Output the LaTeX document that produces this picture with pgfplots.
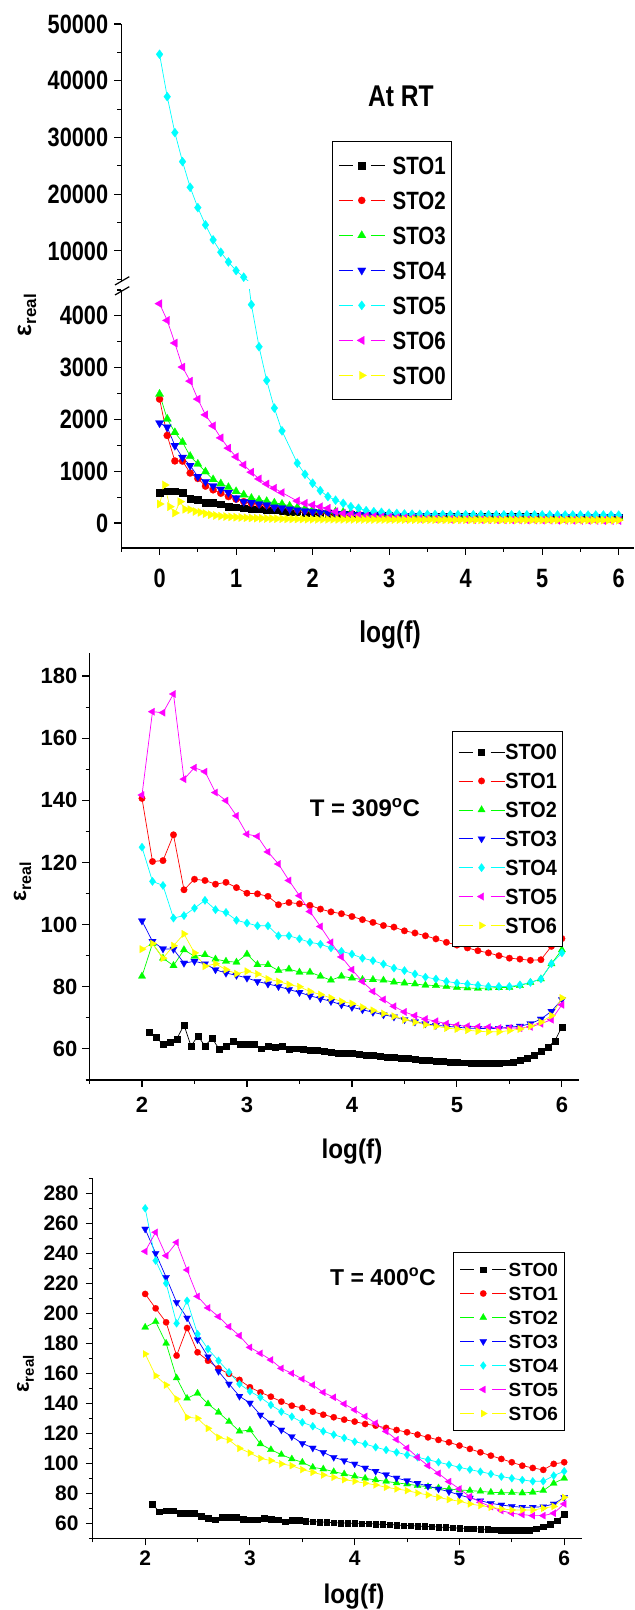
\documentclass[border=0pt]{standalone}
\usepackage{fontspec}
\setmainfont{Liberation Sans}
\newfontfamily\fA[FakeStretch=0.82]{Liberation Sans}
\newfontfamily\fB[FakeStretch=0.9]{Liberation Sans}
\newfontfamily\fC{Liberation Sans}
\usepackage{pgfplots}
\pgfplotsset{compat=1.18}
\usepackage{pgfplotstable}

\definecolor{oRed}{RGB}{255,0,0}
\definecolor{oGreen}{RGB}{0,255,0}
\definecolor{oBlue}{RGB}{0,0,255}
\definecolor{oCyan}{RGB}{0,255,255}
\definecolor{oMag}{RGB}{255,0,255}
\definecolor{oYel}{RGB}{255,255,0}

% ---------------- Panel 1 (At RT) ----------------
\pgfplotstableread{
x   bk   rd   gr   bl   cy    mg
0.0 586  2393 2490 1930 44660 4236
0.1 618  1690 2010 1850 37190 3913
0.2 618  1198 1750 1495 30850 3475
0.3 586  1195 1560 1265 25740 3011
0.4 470  965  1290 1110 21220 2740
0.5 451  860  1140 895  17630 2392
0.6 393  712  990  798  14580 2089
0.7 393  640  840  712  11940 1876
0.8 367  575  760  650  9770  1644
0.9 316  510  690  586  8060  1445
1.0 303  460  610  480  6530  1277
1.1 290  412  545  412  5370  1122
1.2 271  380  480  393  4217  981
1.3 264  360  445  367  3404  851
1.4 251  342  420  348  2752  754
1.5 245  330  390  305  2219  671
1.6 232  320  365  290  1779  586
1.7 222  290  330  270  nan   nan
1.8 212  260  300  250  1155  425
1.9 203  240  280  230  941   380
2.0 195  225  260  215  768   348
2.1 186  210  245  203  625   315
2.2 178  197  232  192  510   284
2.3 171  186  220  183  440   218
2.4 165  176  209  175  380   187
2.5 159  168  199  168  315   168
2.6 154  160  190  162  284   148
2.7 150  154  182  157  238   135
2.8 146  148  175  152  218   125
2.9 142  143  168  148  206   116
3.0 139  139  163  144  190   108
3.1 136  135  158  141  185   101
3.2 134  132  154  138  175   95
3.3 132  129  150  136  170   90
3.4 130  127  147  134  167   85
3.5 128  125  144  132  165   81
3.6 127  123  141  130  163   78
3.7 126  121  139  129  162   75
3.8 125  120  137  128  161   72
3.9 124  119  135  127  160   70
4.0 123  118  134  126  159   68
4.1 122  117  133  125  159   66
4.2 121  116  132  124  158   64
4.3 121  115  131  124  158   63
4.4 120  114  130  123  157   61
4.5 120  113  129  123  157   60
4.6 119  112  128  122  157   59
4.7 119  111  127  122  156   58
4.8 118  110  126  121  156   57
4.9 118  109  125  121  156   56
5.0 117  108  124  120  155   55
5.1 117  107  123  120  155   54
5.2 116  106  122  119  155   53
5.3 116  105  121  119  154   52
5.4 115  104  120  118  154   51
5.5 115  103  119  118  154   50
5.6 114  102  118  117  153   50
5.7 114  101  117  117  153   49
5.8 113  100  116  116  153   48
5.9 113  99   115  116  152   48
6.0 112  98   114  115  152   47
}\tA

\pgfplotstableread{
x     y
0.000 367
0.067 734
0.133 315
0.200 193
0.267 412
0.333 264
0.400 258
0.467 222
0.533 205
0.600 180
0.667 160
0.733 145
0.800 132
0.867 124
0.933 117
1.000 111
1.067 106
1.133 101
1.200 97
1.267 93
1.333 90
1.400 87
1.467 85
1.533 83
1.600 81
1.667 79
1.733 77
1.800 76
1.867 75
1.933 74
2.000 73
2.067 72
2.133 72
2.200 71
2.267 71
2.333 70
2.400 70
2.467 69
2.533 69
2.600 68
2.667 68
2.733 67
2.800 67
2.867 66
2.933 66
3.000 66
3.067 65
3.133 65
3.200 65
3.267 64
3.333 64
3.400 64
3.467 63
3.533 63
3.600 63
3.667 62
3.733 62
3.800 62
3.867 61
3.933 61
4.000 61
4.067 61
4.133 60
4.200 60
4.267 60
4.333 60
4.400 59
4.467 59
4.533 59
4.600 59
4.667 58
4.733 58
4.800 58
4.867 58
4.933 57
5.000 57
5.067 57
5.133 57
5.200 57
5.267 56
5.333 56
5.400 56
5.467 56
5.533 56
5.600 55
5.667 55
5.733 55
5.800 55
5.867 55
5.933 55
6.000 55
}\tAz

% ---------------- Panel 2 (309 C) ----------------
\pgfplotstableread{
x   r     g    b     c     m     y
2.0 140.6 83.4 101.2 124.9 141.7 92.1
2.1 120.3 93.9 94.6  113.9 168.5 93.9
2.2 120.6 89.2 92.2  112.6 168.2 89.2
2.3 128.9 86.8 92.1  102.1 174.2 93.2
2.4 111.2 91.9 87.6  102.9 146.8 97.0
2.5 114.6 89.8 88.2  105.3 150.5 90.9
2.6 114.2 90.3 87.4  107.8 149.2 86.6
2.7 113.0 88.9 85.5  104.8 142.5 87.4
2.8 113.6 88.2 84.4  103.9 139.9 85.5
2.9 111.9 87.9 83.7  101.4 135.0 84.2
3.0 110.1 90.5 82.8  100.5 129.1 85.0
3.1 109.9 87.1 81.7  99.6  128.4 84.1
3.2 109.1 87.1 80.9  99.6  123.4 82.5
3.3 106.4 85.2 80.1  96.4  119.5 81.7
3.4 107.1 85.7 79.1  96.4  114.2 80.7
3.5 106.7 84.7 78.2  95.4  109.3 80.0
3.6 106.2 84.7 77.1  94.3  104.2 78.5
3.7 105.0 83.4 76.2  93.7  99.4  77.5
3.8 104.1 82.1 75.3  92.5  94.3  76.4
3.9 103.5 83.4 74.2  91.4  89.6  75.3
4.0 102.6 82.8 73.4  90.5  85.5  74.6
4.1 101.6 82.3 72.6  89.2  81.7  73.4
4.2 100.7 82.3 71.8  88.4  78.5  72.4
4.3 99.7  82.1 71.0  87.3  75.9  71.4
4.4 99.2  81.5 70.3  86.0  73.7  70.5
4.5 98.0  81.2 69.4  85.2  71.9  69.4
4.6 97.3  80.9 68.7  84.1  70.7  68.6
4.7 96.4  80.5 68.1  83.1  69.6  67.8
4.8 95.4  80.4 67.6  82.5  68.9  67.3
4.9 94.3  80.1 67.3  81.7  68.1  66.7
5.0 93.4  79.8 67.0  81.2  67.6  66.4
5.1 92.5  79.6 66.7  80.9  67.3  66.0
5.2 91.6  79.5 66.6  80.5  67.1  65.7
5.3 90.9  79.6 66.5  80.1  67.0  65.5
5.4 90.0  79.7 66.6  80.1  66.7  65.5
5.5 89.2  79.8 67.0  80.1  66.7  65.9
5.6 88.9  80.4 67.3  80.6  66.7  66.4
5.7 88.5  81.4 68.1  81.4  67.1  67.3
5.8 88.7  82.5 69.6  82.5  68.1  68.6
5.9 93.0  87.4 72.1  87.4  69.4  70.7
6.0 95.5  91.9 75.9  90.9  74.2  76.4
}\tB

\pgfplotstableread{
x     y
2.067 65.4
2.133 63.9
2.200 61.4
2.267 62.2
2.333 63.3
2.400 67.7
2.467 60.9
2.533 64.2
2.600 60.9
2.667 63.5
2.733 60.0
2.800 60.9
2.867 62.5
2.933 61.4
3.000 61.4
3.067 61.4
3.133 60.1
3.200 61.0
3.267 60.6
3.333 60.9
3.400 59.8
3.467 60.1
3.533 60.0
3.600 59.5
3.667 59.6
3.733 59.3
3.800 59.0
3.867 58.8
3.933 58.6
4.000 58.5
4.067 58.3
4.133 58.1
4.200 57.9
4.267 57.7
4.333 57.5
4.400 57.3
4.467 57.1
4.533 56.9
4.600 56.7
4.667 56.5
4.733 56.3
4.800 56.1
4.867 56.0
4.933 55.9
5.000 55.8
5.067 55.6
5.133 55.5
5.200 55.4
5.267 55.4
5.333 55.4
5.400 55.5
5.467 55.6
5.533 55.8
5.600 56.3
5.667 57.0
5.733 58.0
5.800 59.2
5.867 60.6
5.933 62.6
6.000 67.1
}\tBz

% ---------------- Panel 3 (400 C) ----------------
\pgfplotstableread{
x   r     g     b     c     m     y
2.0 212.9 190.7 256.2 270.0 241.3 172.9
2.1 203.3 194.4 240.0 235.1 254.0 158.4
2.2 194.0 180.0 224.0 220.0 238.4 152.2
2.3 171.8 156.9 207.3 193.3 247.3 142.9
2.4 190.2 143.3 196.9 208.4 228.9 130.7
2.5 174.0 146.7 182.4 186.2 211.3 130.0
2.6 168.4 139.6 171.1 176.2 203.6 123.3
2.7 163.3 134.0 161.3 168.4 197.8 117.3
2.8 159.6 127.8 152.9 160.7 191.1 115.6
2.9 155.6 121.3 144.7 152.9 185.1 110.0
3.0 150.7 122.2 140.2 148.0 177.3 106.9
3.1 147.3 112.9 132.2 144.0 173.3 103.3
3.2 144.4 109.1 126.9 138.9 168.9 101.8
3.3 141.1 105.8 122.2 134.4 163.3 99.6
3.4 138.4 102.9 117.8 131.1 160.0 98.4
3.5 136.9 100.7 113.3 127.3 156.2 95.8
3.6 134.4 97.3  110.2 124.7 152.2 94.0
3.7 132.4 96.2  107.3 121.3 147.3 92.2
3.8 130.7 94.4  104.0 119.1 144.0 90.7
3.9 129.1 92.9  101.8 116.9 139.6 89.1
4.0 127.8 91.3  99.6  114.4 135.6 88.0
4.1 126.2 90.0  96.9  112.9 131.3 86.7
4.2 125.1 88.9  94.7  110.7 126.7 85.6
4.3 123.6 88.0  92.4  108.9 121.3 84.0
4.4 122.2 86.9  90.2  107.3 115.8 82.9
4.5 120.7 86.2  88.4  105.6 110.2 81.8
4.6 119.1 85.1  86.7  104.0 104.0 80.2
4.7 117.3 84.4  84.7  102.4 98.4  78.9
4.8 115.6 83.6  82.9  100.7 93.3  77.3
4.9 114.0 82.9  81.1  99.1  87.8  75.8
5.0 111.8 82.2  78.9  97.3  82.9  74.7
5.1 109.6 81.8  76.9  95.8  77.8  72.9
5.2 107.3 81.3  75.1  94.4  74.0  71.8
5.3 105.1 80.7  73.3  92.9  71.1  70.7
5.4 102.9 80.4  72.2  91.1  68.4  69.6
5.5 100.7 80.4  71.3  90.0  66.7  68.9
5.6 98.4  80.2  70.7  88.9  65.8  68.9
5.7 96.9  80.7  70.7  88.0  65.1  68.9
5.8 95.6  81.8  71.1  88.0  65.1  70.0
5.9 99.6  86.7  72.9  91.8  66.7  71.3
6.0 100.7 90.0  77.3  94.7  72.9  77.3
}\tC

\pgfplotstableread{
x     y
2.067 72.9
2.133 67.8
2.200 68.4
2.267 68.4
2.333 66.7
2.400 66.7
2.467 66.9
2.533 64.7
2.600 63.5
2.667 62.4
2.733 64.0
2.800 64.0
2.867 64.0
2.933 62.8
3.000 62.4
3.067 62.4
3.133 63.3
3.200 62.7
3.267 62.4
3.333 61.1
3.400 62.0
3.467 62.0
3.533 61.6
3.600 61.1
3.667 60.9
3.733 60.7
3.800 60.4
3.867 60.2
3.933 60.2
4.000 60.0
4.067 59.9
4.133 59.8
4.200 59.5
4.267 59.3
4.333 59.1
4.400 58.9
4.467 58.6
4.533 58.4
4.600 58.2
4.667 58.0
4.733 57.8
4.800 57.5
4.867 57.3
4.933 57.0
5.000 56.8
5.067 56.6
5.133 56.4
5.200 56.2
5.267 56.0
5.333 55.8
5.400 55.6
5.467 55.5
5.533 55.5
5.600 55.5
5.667 55.6
5.733 56.4
5.800 57.8
5.867 59.6
5.933 61.8
6.000 66.2
}\tCz

\pgfplotsset{
  ori/.style={
    scale only axis,
    axis y line*=left, axis x line*=bottom,
    tick align=outside,
    major tick length=7bp, minor tick length=4bp,
    axis line style={line width=1.3bp, black},
    major tick style={line width=1.1bp, black},
    minor tick style={line width=1.1bp, black},
    scaled y ticks=false, scaled x ticks=false,
    /pgf/number format/assume math mode=true,
    /pgf/number format/1000 sep={},
    yticklabel style={anchor=east, inner sep=0pt},
    xticklabel style={anchor=north, inner sep=0pt},
    legend cell align=left,
    legend image code/.code={
      \draw[##1,mark=none,solid] (0bp,0bp) -- (14bp,0bp);
      \draw[##1,mark=none,solid] (32bp,0bp) -- (46bp,0bp);
      \draw[##1] plot coordinates {(23bp,0bp)};
    },
  },
  pBk/.style={color=black, line width=0.7bp, mark=square*, mark size=#1,
    mark options={solid, fill=black, draw=black, line width=0.2bp}},
  pRd/.style={color=oRed, line width=0.7bp, mark=*, mark size=#1,
    mark options={solid, fill=oRed, draw=oRed, line width=0.2bp}},
  pGr/.style={color=oGreen, line width=0.7bp, mark=triangle*, mark size=#1,
    mark options={solid, fill=oGreen, draw=oGreen, line width=0.2bp}},
  pBl/.style={color=oBlue, line width=0.7bp, mark=triangle*, mark size=#1,
    mark options={solid, rotate=180, fill=oBlue, draw=oBlue, line width=0.2bp}},
  pCy/.style={color=oCyan, line width=0.7bp, mark=diamond*, mark size=#1,
    mark options={solid, fill=oCyan, draw=oCyan, line width=0.2bp}},
  pMg/.style={color=oMag, line width=0.7bp, mark=triangle*, mark size=#1,
    mark options={solid, rotate=90, fill=oMag, draw=oMag, line width=0.2bp}},
  pYl/.style={color=oYel, line width=0.7bp, mark=triangle*, mark size=#1,
    mark options={solid, rotate=270, fill=oYel, draw=oYel, line width=0.2bp}},
}

\begin{document}
\begin{tikzpicture}
\path[use as bounding box] (0,0) rectangle (635bp,1610bp);

% ===== Panel 1, upper part =====
\begin{axis}[ori,
  at={(121.3bp,1329bp)}, anchor=south west,
  width=512.7bp, height=257bp,
  xmin=-0.5, xmax=6.2, ymin=4700, ymax=50000,
  axis x line=none,
  ytick={10000,20000,30000,40000,50000},
  minor ytick={5000,15000,25000,35000,45000},
  yticklabel style={font=\fA\bfseries\fontsize{26.5bp}{26.5bp}\selectfont, xshift=-6bp},
]
\addplot[pCy=4.6, mark=none] table[x=x,y=cy]{\tA};
\addplot[pCy=4.6, only marks, restrict y to domain=4700:50000] table[x=x,y=cy]{\tA};
\end{axis}

% ===== Panel 1, lower part =====
\begin{axis}[ori,
  at={(121.3bp,1062bp)}, anchor=south west,
  width=512.7bp, height=258bp,
  xmin=-0.5, xmax=6.2, ymin=-483, ymax=4500,
  xtick={0,1,2,3,4,5,6},
  minor xtick={-0.5,0.5,1.5,2.5,3.5,4.5,5.5},
  ytick={0,1000,2000,3000,4000},
  minor ytick={500,1500,2500,3500,4500},
  yticklabel style={font=\fA\bfseries\fontsize{26.5bp}{26.5bp}\selectfont, xshift=-6bp},
  xticklabel style={font=\fA\bfseries\fontsize{26.5bp}{26.5bp}\selectfont, yshift=-14bp},
  legend style={at={(axis description cs:0.411,1.5775)}, anchor=north west,
    draw=black, line width=0.8bp, fill=white,
    inner xsep=6bp, inner ysep=15bp, row sep=17bp,
    font=\fA\bfseries\fontsize{25bp}{25bp}\selectfont,
    nodes={inner sep=0pt, text height=18bp, text depth=0bp},
    /tikz/every odd column/.append style={column sep=7.5bp}},
]
\addplot[pBk=3.3] table[x=x,y=bk]{\tA};
\addlegendentry{STO1}
\addplot[pRd=3.6] table[x=x,y=rd]{\tA};
\addlegendentry{STO2}
\addplot[pGr=4.8] table[x=x,y=gr]{\tA};
\addlegendentry{STO3}
\addplot[pBl=4.8] table[x=x,y=bl]{\tA};
\addlegendentry{STO4}
\addplot[pCy=4.6, mark=none, forget plot] table[x=x,y=cy]{\tA};
\addplot[pCy=4.6, only marks, restrict y to domain=-1000:4500] table[x=x,y=cy]{\tA};
\addlegendentry{STO5}
\addplot[pMg=4.8] table[x=x,y=mg]{\tA};
\addlegendentry{STO6}
\addplot[pYl=4.8] table[x=x,y=y]{\tAz};
\addlegendentry{STO0}
\end{axis}

% axis break marks
\draw[line width=1.2bp] (115bp,1325bp) -- (129.3bp,1333.3bp);
\draw[line width=1.2bp] (115bp,1315bp) -- (129.3bp,1323.3bp);

\node[font=\fA\bfseries\fontsize{30bp}{30bp}\selectfont] at (401bp,1514bp) {At RT};
\node[rotate=90, font=\fC\bfseries] at (27bp,1295bp)
  {{\fontsize{25bp}{25bp}\selectfont ε}\raisebox{-5bp}{\fontsize{17bp}{17bp}\selectfont real}};
\node[font=\fA\bfseries\fontsize{30bp}{30bp}\selectfont] at (390bp,975bp) {log(f)};

% ===== Panel 2 =====
\begin{axis}[ori,
  at={(89.5bp,530bp)}, anchor=south west,
  width=489.2bp, height=426.7bp,
  xmin=1.5, xmax=6.16, ymin=50, ymax=187.3,
  xtick={2,3,4,5,6},
  minor xtick={1.5,2.5,3.5,4.5,5.5},
  ytick={60,80,...,180},
  minor ytick={50,70,...,170},
  yticklabel style={font=\fC\bfseries\fontsize{22bp}{22bp}\selectfont, xshift=-5bp},
  xticklabel style={font=\fC\bfseries\fontsize{22bp}{22bp}\selectfont, yshift=-10bp},
  legend style={at={(axis description cs:0.7406,0.818)}, anchor=north west,
    draw=black, line width=0.8bp, fill=white,
    inner xsep=6bp, inner ysep=12.8bp, row sep=13.1bp,
    font=\fB\bfseries\fontsize{22bp}{22bp}\selectfont,
    nodes={inner sep=0pt, text height=15.8bp, text depth=0bp},
    /tikz/every odd column/.append style={column sep=0.5bp}},
]
\addplot[pBk=3.0] table[x=x,y=y]{\tBz};
\addlegendentry{STO0}
\addplot[pRd=3.3] table[x=x,y=r]{\tB};
\addlegendentry{STO1}
\addplot[pGr=4.3] table[x=x,y=g]{\tB};
\addlegendentry{STO2}
\addplot[pBl=4.3] table[x=x,y=b]{\tB};
\addlegendentry{STO3}
\addplot[pCy=4.2] table[x=x,y=c]{\tB};
\addlegendentry{STO4}
\addplot[pMg=4.3] table[x=x,y=m]{\tB};
\addlegendentry{STO5}
\addplot[pYl=4.3] table[x=x,y=y]{\tB};
\addlegendentry{STO6}
\end{axis}

\node[font=\fC\bfseries\fontsize{24bp}{24bp}\selectfont] at (365bp,802bp) {T = 309\textsuperscript{o}C};
\node[rotate=90, font=\fC\bfseries] at (22.5bp,728bp)
  {{\fontsize{23bp}{23bp}\selectfont ε}\raisebox{-5bp}{\fontsize{16bp}{16bp}\selectfont real}};
\node[font=\fB\bfseries\fontsize{27bp}{27bp}\selectfont] at (352bp,458bp) {log(f)};

% ===== Panel 3 =====
\begin{axis}[ori,
  at={(92.8bp,71.7bp)}, anchor=south west,
  width=489.2bp, height=360bp,
  xmin=1.5, xmax=6.17, ymin=50, ymax=290,
  xtick={2,3,4,5,6},
  minor xtick={1.5,2.5,3.5,4.5,5.5},
  ytick={60,80,...,280},
  minor ytick={50,70,...,290},
  yticklabel style={font=\fC\bfseries\fontsize{21bp}{21bp}\selectfont, xshift=-7bp},
  xticklabel style={font=\fC\bfseries\fontsize{21bp}{21bp}\selectfont, yshift=-5.5bp},
  legend style={at={(axis description cs:0.7363,0.795)}, anchor=north west,
    draw=black, line width=0.8bp, fill=white,
    inner xsep=6.5bp, inner ysep=10.2bp, row sep=10.4bp,
    font=\fC\bfseries\fontsize{19bp}{19bp}\selectfont,
    nodes={inner sep=0pt, text height=13.6bp, text depth=0bp},
    /tikz/every odd column/.append style={column sep=2bp}},
]
\addplot[pBk=2.8] table[x=x,y=y]{\tCz};
\addlegendentry{STO0}
\addplot[pRd=3.2] table[x=x,y=r]{\tC};
\addlegendentry{STO1}
\addplot[pGr=4.1] table[x=x,y=g]{\tC};
\addlegendentry{STO2}
\addplot[pBl=4.1] table[x=x,y=b]{\tC};
\addlegendentry{STO3}
\addplot[pCy=4.0] table[x=x,y=c]{\tC};
\addlegendentry{STO4}
\addplot[pMg=4.1] table[x=x,y=m]{\tC};
\addlegendentry{STO5}
\addplot[pYl=4.1] table[x=x,y=y]{\tC};
\addlegendentry{STO6}
\end{axis}

\node[font=\fC\bfseries\fontsize{23bp}{23bp}\selectfont] at (383bp,333bp) {T = 400\textsuperscript{o}C};
\node[rotate=90, font=\fC\bfseries] at (25.5bp,236bp)
  {{\fontsize{22bp}{22bp}\selectfont ε}\raisebox{-5bp}{\fontsize{15bp}{15bp}\selectfont real}};
\node[font=\fB\bfseries\fontsize{27bp}{27bp}\selectfont] at (354bp,13bp) {log(f)};

\end{tikzpicture}
\end{document}
